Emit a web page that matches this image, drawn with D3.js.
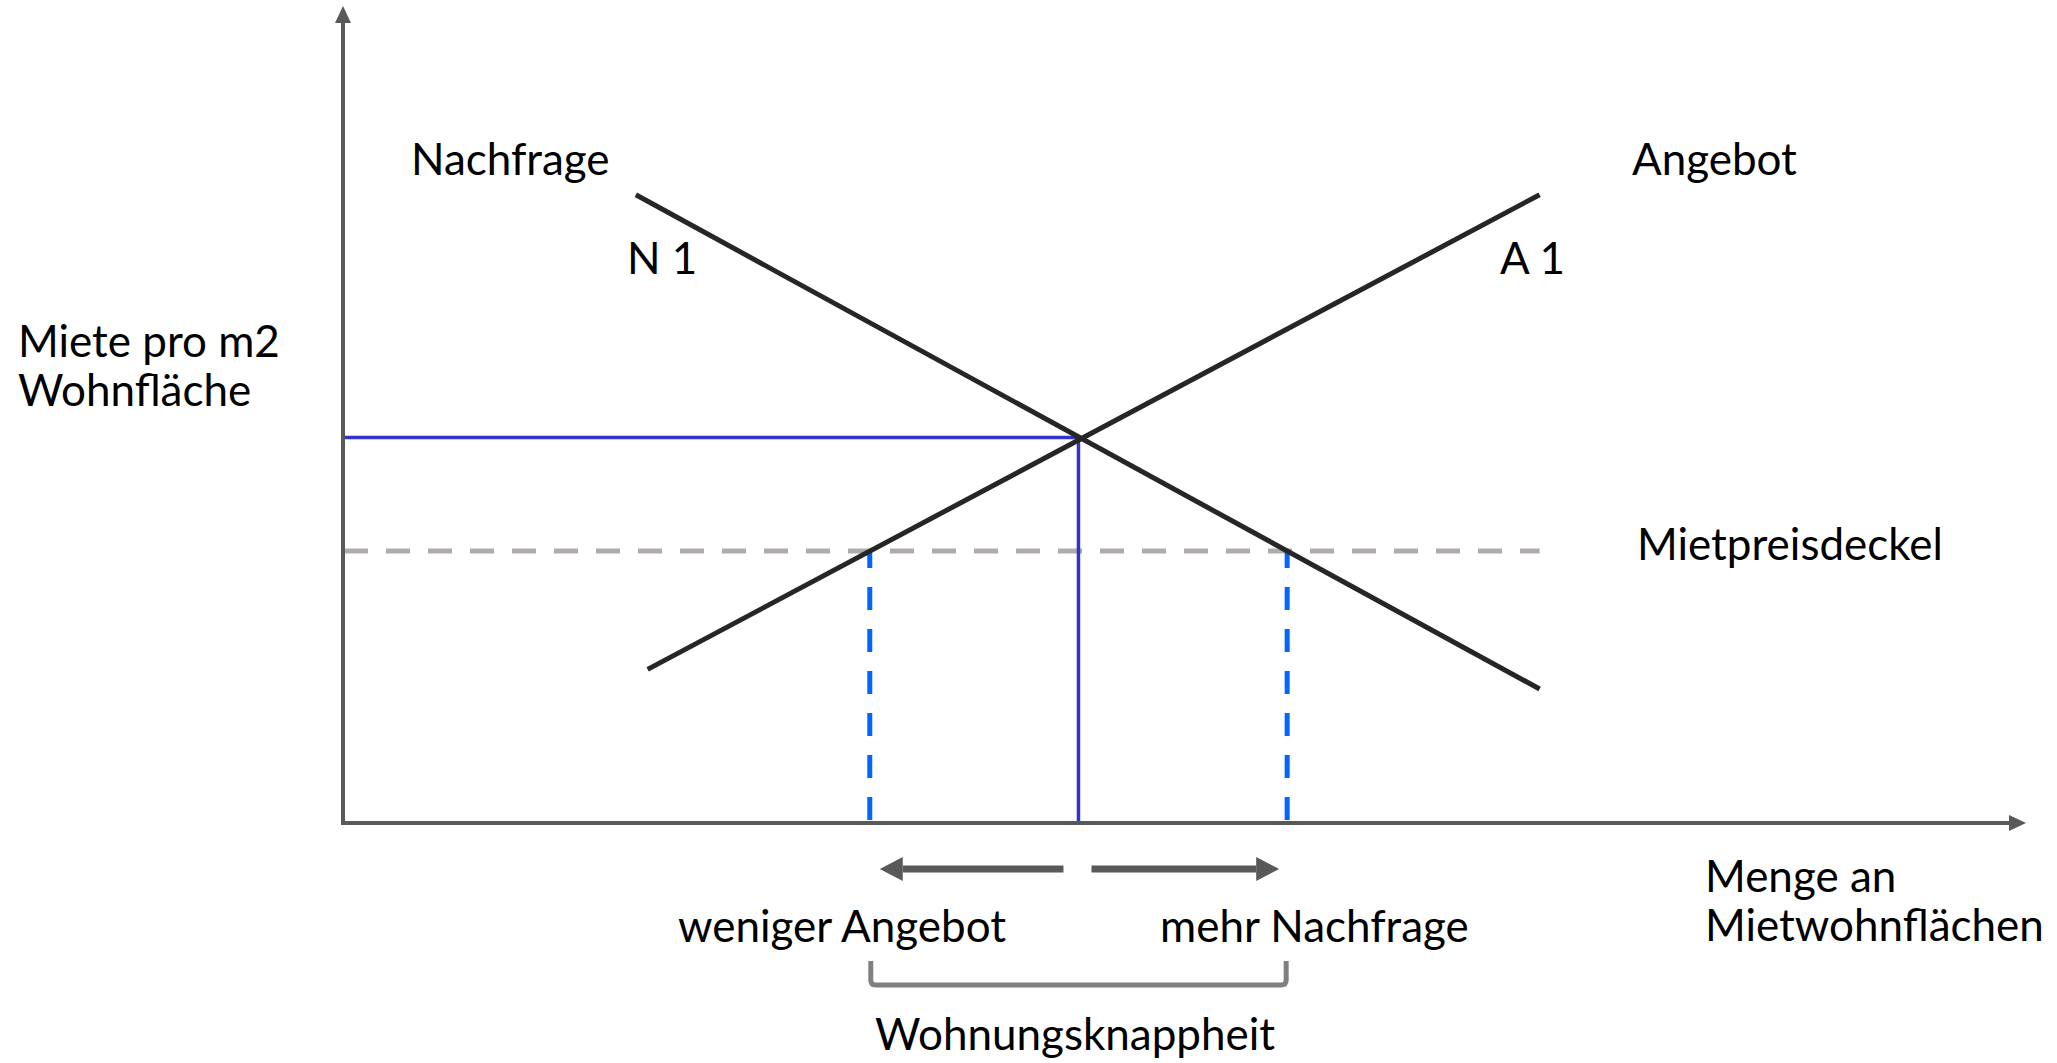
<!DOCTYPE html>
<html><head><meta charset="utf-8">
<script src="https://cdn.jsdelivr.net/npm/d3@7"></script>
<style>html,body{margin:0;padding:0;background:#fff;overflow:hidden}</style>
</head><body>
<svg id="chart" width="2057" height="1063"></svg>
<script>
// ---------- data (model units: quantity 0-100, rent 0-100) ----------
const quantityDomain = [0, 100];
const rentDomain = [0, 100];
const demandN1 = [{q: 17.4, p: 76.9}, {q: 71.1, p: 16.4}];
const supplyA1 = [{q: 18.1, p: 18.8}, {q: 71.1, p: 76.9}];
const equilibrium = {q: 43.7, p: 47.2};
const priceCap = 33.3;
const priceCapEndQ = 71.1;
const shortageQ = [31.3, 56.1];   // supplied / demanded at the cap

// ---------- texts ----------
const curveTitles = ["Nachfrage", "Angebot"];
const curveNames = ["N 1", "A 1"];
const yAxisTitle = ["Miete pro m2", "Wohnfläche"];
const xAxisTitle = ["Menge an", "Mietwohnflächen"];
const capLabel = "Mietpreisdeckel";
const effectLabels = ["weniger Angebot", "mehr Nachfrage"];
const shortageLabel = "Wohnungsknappheit";

// ---------- layout ----------
const svg = d3.select("#chart");
const x = d3.scaleLinear().domain(quantityDomain).range([343, 2026]);
const y = d3.scaleLinear().domain(rentDomain).range([823, 6]);
const fontFamily = "Lato, 'Open Sans', sans-serif";

// measure font so that Calibri-like widths are matched
const probe = svg.append("text").attr("font-family", fontFamily).attr("font-size", 100).text(capLabel);
const fs = 100 * 306 / probe.node().getComputedTextLength();
probe.remove();

const line = d3.line().x(d => x(d.q)).y(d => y(d.p));

// price cap (grey dashed)
svg.append("path")
  .attr("d", line([{q: 0, p: priceCap}, {q: priceCapEndQ, p: priceCap}]))
  .attr("fill", "none").attr("stroke", "#AFABAB").attr("stroke-width", 5)
  .attr("stroke-dasharray", "24,18").attr("stroke-dashoffset", -1);

// shortage verticals (blue dashed)
shortageQ.forEach(q => {
  svg.append("path")
    .attr("d", line([{q: q, p: priceCap}, {q: q, p: 0}]))
    .attr("fill", "none").attr("stroke", "#0066FF").attr("stroke-width", 5)
    .attr("stroke-dasharray", "23,19").attr("stroke-dashoffset", 6);
});

// equilibrium guide lines (blue solid)
svg.append("path")
  .attr("d", line([{q: 0, p: equilibrium.p}, {q: equilibrium.q, p: equilibrium.p}, {q: equilibrium.q, p: 0}]))
  .attr("fill", "none").attr("stroke", "#3333CC").attr("stroke-width", 3.5);

// demand & supply
[demandN1, supplyA1].forEach(d => {
  svg.append("path").attr("d", line(d))
    .attr("fill", "none").attr("stroke", "#262626").attr("stroke-width", 5)
    .attr("stroke-linecap", "butt");
});

// axes
const axisColor = "#595959";
const x0 = x(0), y0 = y(0), xEnd = x(quantityDomain[1]), yEnd = y(rentDomain[1]);
const head = 17, half = 8;
svg.append("path")
  .attr("d", `M${x0},${y0 + 2}V${yEnd + head}`)
  .attr("stroke", axisColor).attr("stroke-width", 4).attr("fill", "none");
svg.append("path")
  .attr("d", `M${x0 - 2},${y0}H${xEnd - head}`)
  .attr("stroke", axisColor).attr("stroke-width", 4).attr("fill", "none");
svg.append("path")
  .attr("d", `M${x0},${yEnd}L${x0 + half},${yEnd + head}L${x0 - half},${yEnd + head}Z`)
  .attr("fill", axisColor);
svg.append("path")
  .attr("d", `M${xEnd},${y0}L${xEnd - head},${y0 - half}L${xEnd - head},${y0 + half}Z`)
  .attr("fill", axisColor);

// shift arrows below the axis
const arrowY = 869, shaftW = 7, aHead = 23, aHalf = 12;
const eqX = x(equilibrium.q);
function arrow(from, to) {
  const dir = Math.sign(to - from);
  const base = to - dir * aHead;
  svg.append("path").attr("d", `M${from},${arrowY}H${base}`)
    .attr("stroke", axisColor).attr("stroke-width", shaftW).attr("fill", "none");
  svg.append("path").attr("d", `M${to},${arrowY}L${base},${arrowY - aHalf}L${base},${arrowY + aHalf}Z`)
    .attr("fill", axisColor);
}
arrow(eqX - 15, x(shortageQ[0]) + 10);
arrow(eqX + 13, x(shortageQ[1]) - 8);

// bracket
const bx1 = x(shortageQ[0]) + 1, bx2 = x(shortageQ[1]) - 1, bTop = 961, bBot = 985, r = 5;
svg.append("path")
  .attr("d", `M${bx1},${bTop}V${bBot - r}Q${bx1},${bBot} ${bx1 + r},${bBot}H${bx2 - r}Q${bx2},${bBot} ${bx2},${bBot - r}V${bTop}`)
  .attr("fill", "none").attr("stroke", "#808080").attr("stroke-width", 5);

// texts
const texts = [
  [curveTitles[0], 411, 175],
  [curveTitles[1], 1632, 175],
  [curveNames[0], 627, 274],
  [curveNames[1], 1500, 274],
  [yAxisTitle[0], 18, 357],
  [yAxisTitle[1], 18, 406],
  [capLabel, 1637, 560],
  [xAxisTitle[0], 1705, 892],
  [xAxisTitle[1], 1705, 941],
  [effectLabels[0], 678, 942],
  [effectLabels[1], 1160, 942],
  [shortageLabel, 875, 1050]
];
svg.selectAll("text.lbl").data(texts).enter().append("text")
  .attr("class", "lbl")
  .attr("x", d => d[1]).attr("y", d => d[2])
  .attr("font-family", fontFamily).attr("font-size", fs)
  .attr("fill", "#000")
  .text(d => d[0]);
</script>
</body></html>
